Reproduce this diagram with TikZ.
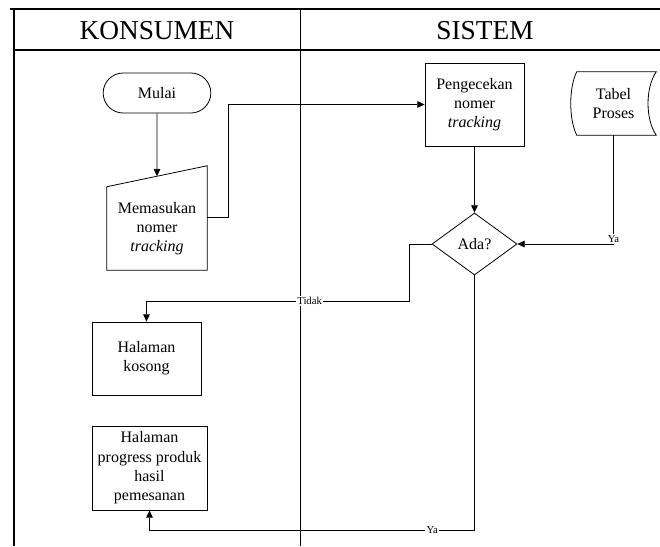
\documentclass[tikz,border=0pt]{standalone}
\usepackage{fontspec}
\setmainfont{Liberation Serif}
\usetikzlibrary{arrows.meta, positioning, shapes.geometric, shapes.misc, calc}

\begin{document}
\begin{tikzpicture}[x=0.75pt, y=0.75pt, font=\fontsize{12}{14.5}\selectfont,
  b/.style={draw, line width=0.6pt, align=center, inner sep=2pt},
  txt/.style={align=center, inner sep=0pt},
  lane/.style={font=\fontsize{20.5}{24}\selectfont, inner sep=0pt},
  a/.style={-{Triangle[length=5.5pt, width=5pt]}, line width=0.6pt},
  lbl/.style={font=\fontsize{8}{9}\selectfont, fill=white, inner sep=1pt}]
\useasboundingbox (0,0) rectangle (660,-546);
% swimlanes
\draw[line width=0.9pt] (10,-9) -- (660,-9);
\draw[line width=0.9pt] (14,-9) -- (14,-546);
\draw[line width=0.9pt] (14,-50) -- (660,-50);
\draw[line width=0.7pt] (300,-9) -- (300,-546);
\node[lane] (konsumen) at (157,-31) {KONSUMEN};
\node[lane] (sistem) at (485,-31) {SISTEM};

% konsumen
\node[b, rounded rectangle, minimum width=84.75pt, minimum height=30pt] (mulai) at (157,-93) {Mulai};
\node[txt, minimum width=75pt, minimum height=62.25pt] (minput) at (157,-228.5) {Memasukan\\nomer\\\textit{tracking}};
\draw[line width=0.6pt] (minput.south west) -- (minput.south east) -- ($(minput.north east)+(0,21)$) -- (minput.north west) -- cycle;
\coordinate (mi-top) at ($(minput.north west)!0.5!(minput.north east)+(0,10.5)$);
\node[b, minimum width=81.75pt, minimum height=54.75pt] (kosong) at (146.5,-358.5) {Halaman\\kosong};
\node[b, minimum width=86.25pt, minimum height=63pt] (prog) at (149.5,-468) {Halaman\\progress produk\\hasil\\pemesanan};

% sistem
\node[b, minimum width=74.25pt, minimum height=62.25pt] (cek) at (474.5,-104.5) {Pengecekan\\nomer\\\textit{tracking}};
\node[b, diamond, aspect=1.37, minimum width=63.75pt, minimum height=46.5pt, inner sep=0pt] (ada) at (474.5,-244) {Ada?};
\node[txt, minimum width=63.75pt, minimum height=47.25pt] (tabel) at (613.5,-103.5) {Tabel\\Proses};
\draw[line width=0.6pt] ($(tabel.north west)+(6,0)$) -- (tabel.north east)
  .. controls ($(tabel.north east)+(-11,-16)$) and ($(tabel.south east)+(-11,16)$) .. (tabel.south east)
  -- ($(tabel.south west)+(6,0)$)
  .. controls ($(tabel.south west)+(-2,16)$) and ($(tabel.north west)+(-2,-16)$) .. ($(tabel.north west)+(6,0)$) -- cycle;

% connectors
\draw[a] (mulai) -- (mi-top);
\draw[a] ([yshift=8.25pt]minput.east) -- ++(21,0) |- (cek.west);
\draw[a] (cek) -- (ada);
\draw[a] (tabel) |- node[lbl, anchor=south, pos=0.5] {Ya} (ada.east);
\draw[a] (ada.west) -- ++(-22,0) -- ++(0,-57) -| node[lbl, pos=0.19] {Tidak} (kosong.north);
\draw[a] (ada.south) -- ++(0,-255) -| node[lbl, pos=0.065] {Ya} (prog.south);
\end{tikzpicture}
\end{document}
